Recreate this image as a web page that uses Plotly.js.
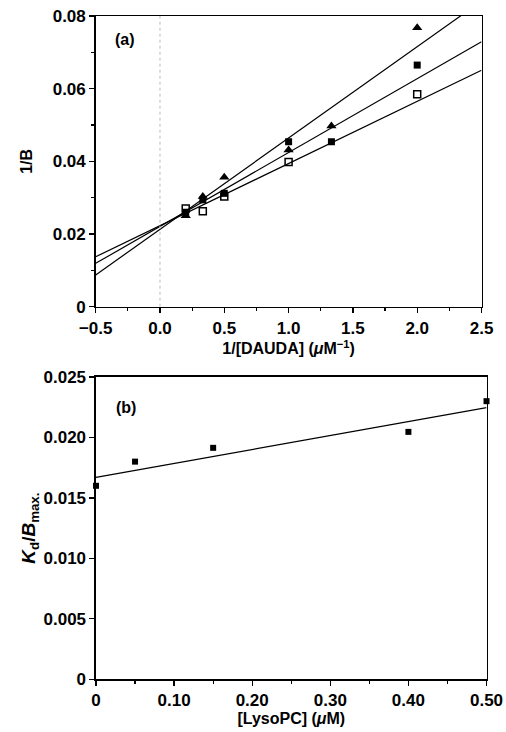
<!DOCTYPE html>
<html>
<head>
<meta charset="utf-8">
<script src="https://cdn.plot.ly/plotly-3.0.1.min.js"></script>
<style>html,body{margin:0;padding:0;background:#fff;}#chart{width:506px;height:732px;}</style>
</head>
<body>
<div id="chart"></div>
<script>
// ---- Panel (a): double-reciprocal plot ----
const invDauda = [0.2, 0.333, 0.5, 1.0, 1.333, 2.0];
const invB_triangle = [0.0250, 0.0303, 0.0356, 0.0431, 0.0497, 0.0768];
const invB_filledSq = [0.0260, 0.0294, 0.0312, 0.0454, 0.0454, 0.0665];
const invDauda_open = [0.2, 0.333, 0.5, 1.0, 2.0];
const invB_openSq   = [0.0270, 0.0263, 0.0303, 0.0398, 0.0585];
// fitted lines: [slope, intercept]
const fit_triangle = [0.02513, 0.0213];
const fit_filledSq = [0.02033, 0.0221];
const fit_openSq   = [0.01711, 0.0223];
const xRangeA = [-0.5, 2.5];
const xTicksA = [-0.5, 0, 0.5, 1.0, 1.5, 2.0, 2.5];
const xTickTextA = ['\u22120.5', '0.0', '0.5', '1.0', '1.5', '2.0', '2.5'];
const yTicksA = [0, 0.02, 0.04, 0.06, 0.08];
const yTickTextA = ['0', '0.02', '0.04', '0.06', '0.08'];

// ---- Panel (b): Kd/Bmax vs LysoPC ----
const lysoPC = [0, 0.05, 0.15, 0.40, 0.50];
const kdBmax = [0.0160, 0.0180, 0.01914, 0.02046, 0.0230];
const fit_b = [0.01152, 0.0167];
const xRangeB = [0, 0.5];
const xTicksB = [0, 0.1, 0.2, 0.3, 0.4, 0.5];
const xTickTextB = ['0', '0.10', '0.20', '0.30', '0.40', '0.50'];
const yTicksB = [0, 0.005, 0.010, 0.015, 0.020, 0.025];
const yTickTextB = ['0', '0.005', '0.010', '0.015', '0.020', '0.025'];

function lineTrace(fit, xr, xa, ya) {
  return {x: xr, y: xr.map(v => fit[0]*v + fit[1]), mode: 'lines', type: 'scatter',
          xaxis: xa, yaxis: ya, line: {color: '#000', width: 1.2}, hoverinfo: 'skip', showlegend: false};
}

const traces = [
  lineTrace(fit_triangle, xRangeA, 'x', 'y'),
  lineTrace(fit_filledSq, xRangeA, 'x', 'y'),
  lineTrace(fit_openSq, xRangeA, 'x', 'y'),
  {x: invDauda_open, y: invB_openSq, mode: 'markers', type: 'scatter', xaxis: 'x', yaxis: 'y',
   marker: {symbol: 'square-open', size: 7, color: '#000', line: {width: 1.5}}, cliponaxis: false, showlegend: false},
  {x: invDauda, y: invB_filledSq, mode: 'markers', type: 'scatter', xaxis: 'x', yaxis: 'y',
   marker: {symbol: 'square', size: 7, color: '#000'}, cliponaxis: false, showlegend: false},
  {x: invDauda, y: invB_triangle, mode: 'markers', type: 'scatter', xaxis: 'x', yaxis: 'y',
   marker: {symbol: 'triangle-up', size: 9, color: '#000'}, cliponaxis: false, showlegend: false},
  lineTrace(fit_b, xRangeB, 'x2', 'y2'),
  {x: lysoPC, y: kdBmax, mode: 'markers', type: 'scatter', xaxis: 'x2', yaxis: 'y2',
   marker: {symbol: 'square', size: 6, color: '#000'}, cliponaxis: false, showlegend: false}
];

const FAM = 'Liberation Sans, Arial, sans-serif';
const tickFont = {family: FAM, size: 17, color: '#000', weight: 'bold'};
const titleFont = {family: FAM, size: 16, color: '#000', weight: 'bold'};

function axisCommon() {
  return {showline: true, linecolor: '#000', linewidth: 1.5, mirror: true, ticks: 'outside',
          ticklen: 5, tickwidth: 1.2, tickcolor: '#000', showgrid: false, zeroline: false,
          tickfont: tickFont, fixedrange: true};
}

const layout = {
  width: 506, height: 732,
  margin: {l: 0, r: 0, t: 0, b: 0},
  paper_bgcolor: '#fff', plot_bgcolor: '#fff',
  showlegend: false,
  xaxis: Object.assign(axisCommon(), {
    domain: [0.1891, 0.9516], anchor: 'y', range: xRangeA,
    tickmode: 'array', tickvals: xTicksA, ticktext: xTickTextA,
    minor: {dtick: 0.25, ticks: 'outside', ticklen: 3, tickcolor: '#000'},
    title: {text: '1/[DAUDA] (<i>\u03bc</i>M<sup>\u22121</sup>)', font: titleFont, standoff: 3}
  }),
  yaxis: Object.assign(axisCommon(), {
    domain: [0.5810, 0.9781], anchor: 'x', range: [0, 0.08],
    tickmode: 'array', tickvals: yTicksA, ticktext: yTickTextA,
    minor: {dtick: 0.01, ticks: 'outside', ticklen: 3, tickcolor: '#000'},
    title: {text: '1/B', font: titleFont, standoff: 16}
  }),
  xaxis2: Object.assign(axisCommon(), {
    domain: [0.1897, 0.9615], anchor: 'y2', range: xRangeB,
    tickmode: 'array', tickvals: xTicksB, ticktext: xTickTextB,
    minor: {dtick: 0.05, ticks: 'outside', ticklen: 3, tickcolor: '#000'},
    title: {text: '[LysoPC] (<i>\u03bc</i>M)', font: titleFont, standoff: 3}
  }),
  yaxis2: Object.assign(axisCommon(), {
    domain: [0.0720, 0.4850], anchor: 'x2', range: [0, 0.025],
    tickmode: 'array', tickvals: yTicksB, ticktext: yTickTextB,
    title: {text: '<i>K</i><sub>d</sub>/<i>B</i><sub>max.</sub>', font: {family: FAM, size: 19, color: '#000', weight: 'bold'}, standoff: 3}
  }),
  shapes: [
    {type: 'line', xref: 'x', yref: 'y', x0: 0, x1: 0, y0: 0, y1: 0.08,
     line: {color: '#bbb', width: 1, dash: 'dot'}}
  ],
  annotations: [
    {text: '(a)', xref: 'x domain', yref: 'y domain', x: 0.045, y: 0.92, xanchor: 'left', yanchor: 'middle',
     showarrow: false, font: {family: FAM, size: 16, color: '#000', weight: 'bold'}},
    {text: '(b)', xref: 'x2 domain', yref: 'y2 domain', x: 0.045, y: 0.9, xanchor: 'left', yanchor: 'middle',
     showarrow: false, font: {family: FAM, size: 16, color: '#000', weight: 'bold'}}
  ]
};

Plotly.newPlot('chart', traces, layout, {displayModeBar: false, staticPlot: true});
</script>
</body>
</html>
